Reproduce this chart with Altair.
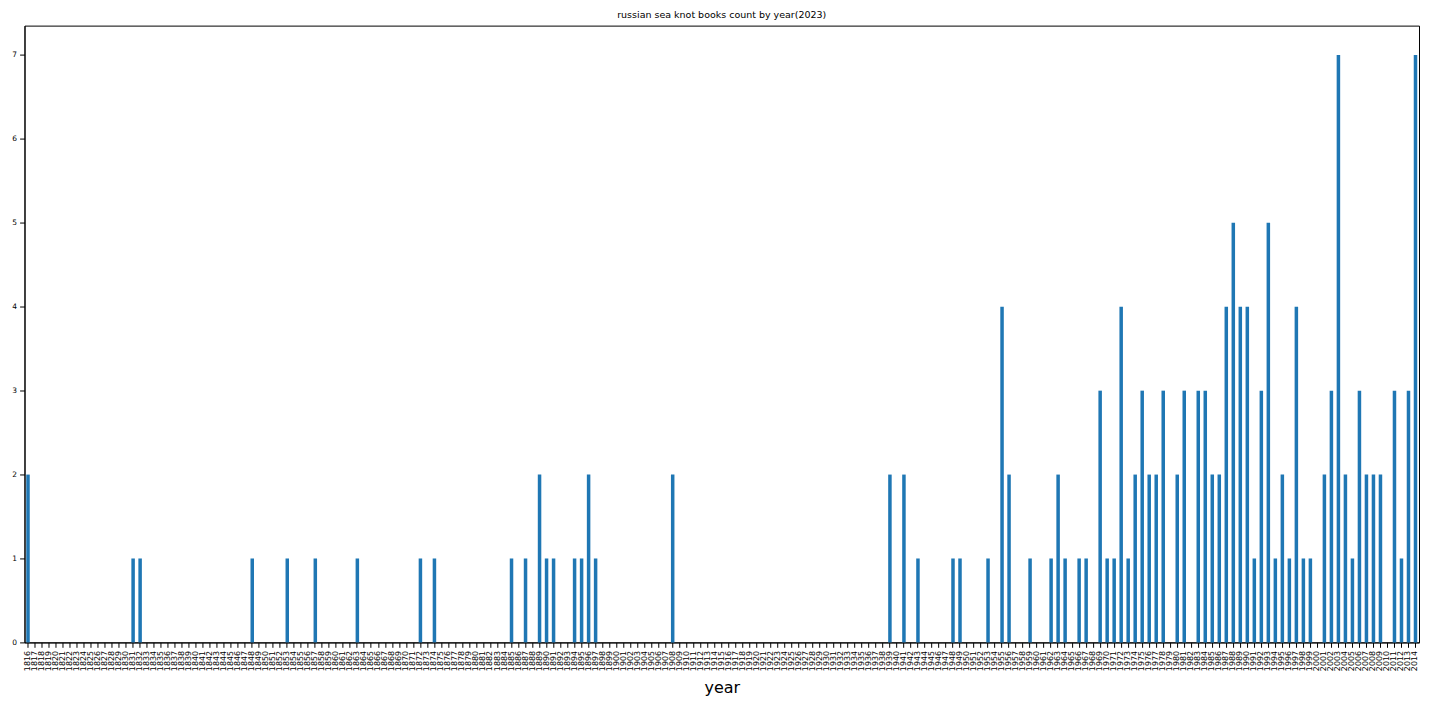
import altair as alt
import pandas as pd

years = [str(y) for y in range(1816, 2015)]

counts = (
    [2, 0, 0, 0]                          # 1816-1819
    + [0, 0, 0, 0, 0, 0, 0, 0, 0, 0]      # 1820s
    + [0, 1, 1, 0, 0, 0, 0, 0, 0, 0]      # 1830s
    + [0, 0, 0, 0, 0, 0, 0, 0, 1, 0]      # 1840s
    + [0, 0, 0, 1, 0, 0, 0, 1, 0, 0]      # 1850s
    + [0, 0, 0, 1, 0, 0, 0, 0, 0, 0]      # 1860s
    + [0, 0, 1, 0, 1, 0, 0, 0, 0, 0]      # 1870s
    + [0, 0, 0, 0, 0, 1, 0, 1, 0, 2]      # 1880s
    + [1, 1, 0, 0, 1, 1, 2, 1, 0, 0]      # 1890s
    + [0, 0, 0, 0, 0, 0, 0, 0, 2, 0]      # 1900s
    + [0, 0, 0, 0, 0, 0, 0, 0, 0, 0]      # 1910s
    + [0, 0, 0, 0, 0, 0, 0, 0, 0, 0]      # 1920s
    + [0, 0, 0, 0, 0, 0, 0, 0, 0, 2]      # 1930s
    + [0, 2, 0, 1, 0, 0, 0, 0, 1, 1]      # 1940s
    + [0, 0, 0, 1, 0, 4, 2, 0, 0, 1]      # 1950s
    + [0, 0, 1, 2, 1, 0, 1, 1, 0, 3]      # 1960s
    + [1, 1, 4, 1, 2, 3, 2, 2, 3, 0]      # 1970s
    + [2, 3, 0, 3, 3, 2, 2, 4, 5, 4]      # 1980s
    + [4, 1, 3, 5, 1, 2, 1, 4, 1, 1]      # 1990s
    + [0, 2, 3, 7, 2, 1, 3, 2, 2, 2]      # 2000s
    + [0, 3, 1, 3, 7]                     # 2010-2014
)

y_ticks = [0, 1, 2, 3, 4, 5, 6, 7]

df = pd.DataFrame({"year": years, "count": counts})

FONT = "DejaVu Sans"

chart = (
    alt.Chart(df)
    .mark_bar(color="#1f77b4")
    .encode(
        x=alt.X(
            "year:N",
            sort=years,
            title="year",
            scale=alt.Scale(paddingInner=0.5, paddingOuter=0.25),
            axis=alt.Axis(
                labelAngle=270,
                labelFontSize=8,
                labelFont=FONT,
                labelColor="black",
                labelPadding=3,
                labelOverlap=False,
                tickSize=4.9,
                tickColor="black",
                domainColor="black",
                titleFont=FONT,
                titleFontSize=16,
                titleFontWeight="normal",
                titleColor="black",
                titlePadding=9,
                grid=False,
            ),
        ),
        y=alt.Y(
            "count:Q",
            title=None,
            scale=alt.Scale(domain=[0, 7.35], nice=False, zero=True),
            axis=alt.Axis(
                values=y_ticks,
                labelFontSize=7.5,
                labelFont=FONT,
                labelColor="black",
                labelPadding=3,
                tickSize=4.9,
                tickColor="black",
                domainColor="black",
                grid=False,
            ),
        ),
    )
    .properties(
        width=1395,
        height=617,
        background="white",
        autosize=alt.AutoSizeParams(type="none"),
        padding={"left": 16.5, "top": 17.5, "right": 4, "bottom": 70},
        title=alt.TitleParams(
            "russian sea knot books count by year(2023)",
            font=FONT,
            fontSize=9.5,
            fontWeight="normal",
            color="black",
            anchor="middle",
            offset=6,
        ),
    )
    .configure_view(stroke="black", strokeWidth=1)
)

chart.save("out.html", embed_options={"renderer": "svg", "actions": False})
